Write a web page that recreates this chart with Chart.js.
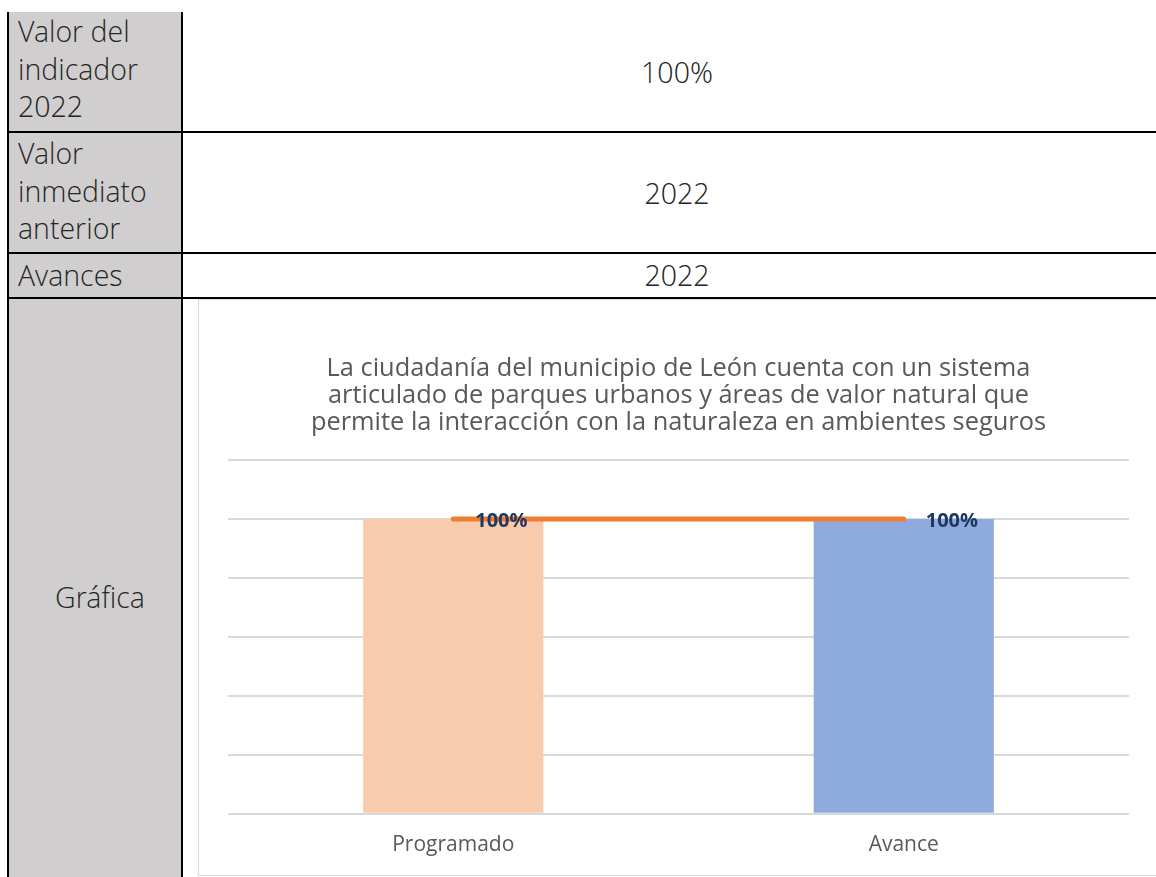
<!DOCTYPE html>
<html>
<head>
<meta charset="utf-8">
<script src="https://cdn.jsdelivr.net/npm/chart.js@4/dist/chart.umd.min.js"></script>
<style>
  body { margin: 0; background: #fff; font-family: "Open Sans", sans-serif; }
  .abs { position: absolute; }
  .gray { background: #d0cece; }
  .black { background: #000; }
  .cell { font-family: "Open Sans Light", "Open Sans", sans-serif; font-size: 28.5px; font-weight: 300; line-height: 37.5px; color: #262626; }
  .left { left: 9px; width: 162px; padding-left: 9px; }
  .val { left: 183px; width: 988px; text-align: center; }
  #frame { left: 198px; top: 299px; width: 980px; height: 575px; border: 1px solid #d9d9d9; background: #fff; }
  #wrap { left: 199px; top: 300px; width: 957px; height: 572px; }
</style>
</head>
<body>
<div class="abs gray" style="left:9px;top:12px;width:172px;height:865px"></div>
<div class="abs black" style="left:7px;top:12px;width:2px;height:865px"></div>
<div class="abs black" style="left:181px;top:12px;width:2px;height:865px"></div>
<div class="abs black" style="left:7px;top:131px;width:1149px;height:2px"></div>
<div class="abs black" style="left:7px;top:252px;width:1149px;height:2px"></div>
<div class="abs black" style="left:7px;top:297px;width:1149px;height:2px"></div>

<div class="abs cell left" style="top:13px">Valor del<br>indicador<br>2022</div>
<div class="abs cell left" style="top:135px">Valor<br>inmediato<br>anterior</div>
<div class="abs cell left" style="top:257px">Avances</div>
<div class="abs cell left" style="top:579px;text-align:center;padding-left:0;width:182px">Gráfica</div>

<div class="abs cell val" style="top:54px">100%</div>
<div class="abs cell val" style="top:175px">2022</div>
<div class="abs cell val" style="top:257px">2022</div>

<div id="frame" class="abs"></div>
<div id="wrap" class="abs"><canvas id="chart"></canvas></div>

<script>
// datos
const categories = ['Programado', 'Avance'];
const barValues = [100, 100];
const lineValues = [100, 100];
const yMax = 120;
const yStep = 20;
const titleLines = [
  'La ciudadanía del municipio de León cuenta con un sistema',
  'articulado de parques urbanos y áreas de valor natural que',
  'permite la interacción con la naturaleza en ambientes seguros'
];

// etiquetas "100%" a la derecha de cada punto de la línea
const pointLabels = {
  id: 'pointLabels',
  afterDatasetsDraw(chart) {
    const meta = chart.getDatasetMeta(0);
    const ctx = chart.ctx;
    ctx.save();
    ctx.font = 'bold 20px "Open Sans"';
    ctx.fillStyle = '#203864';
    ctx.textAlign = 'left';
    ctx.textBaseline = 'middle';
    meta.data.forEach((pt, i) => {
      ctx.fillText(lineValues[i] + '%', pt.x + 22, pt.y + 2);
    });
    ctx.restore();
  }
};

const ctx = document.getElementById('chart').getContext('2d');
const chart = new Chart(ctx, {
  type: 'bar',
  data: {
    labels: categories,
    datasets: [{
      type: 'line',
      data: lineValues,
      borderColor: '#ed7d31',
      borderWidth: 5,
      borderCapStyle: 'round',
      pointRadius: 0,
      order: 0
    }, {
      type: 'bar',
      data: barValues,
      backgroundColor: ['#f8cbad', '#8faadc'],
      barPercentage: 0.4,
      categoryPercentage: 1,
      order: 1
    }]
  },
  options: {
    responsive: true,
    maintainAspectRatio: false,
    animation: false,
    layout: { padding: { left: 29, right: 27, bottom: 3 } },
    plugins: {
      legend: { display: false },
      tooltip: { enabled: false },
      title: {
        display: true,
        text: titleLines,
        color: '#595959',
        font: { family: '"Open Sans"', size: 25.4, weight: 'normal', lineHeight: 1.065 },
        padding: { top: 55, bottom: 24 }
      }
    },
    scales: {
      x: {
        grid: { display: false },
        border: { display: false },
        ticks: { color: '#595959', font: { family: '"Open Sans"', size: 21 }, padding: 11 }
      },
      y: {
        min: 0,
        max: yMax,
        ticks: { display: false, stepSize: yStep },
        grid: { color: '#d9d9d9', lineWidth: 2, drawTicks: false },
        border: { display: false }
      }
    }
  },
  plugins: [pointLabels]
});
</script>
</body>
</html>
